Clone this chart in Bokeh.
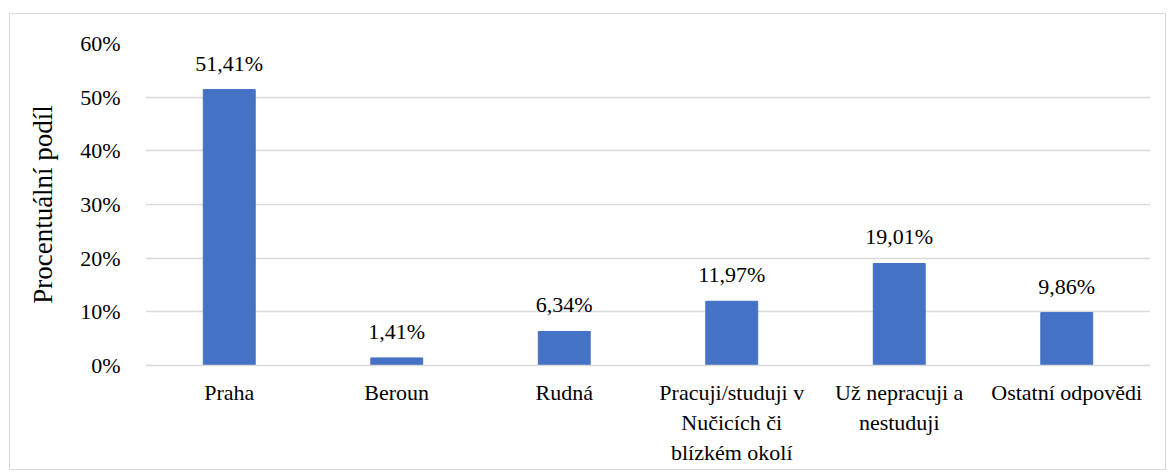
from bokeh.plotting import figure
from bokeh.models import ColumnDataSource, Range1d, FixedTicker, PrintfTickFormatter
from bokeh.core.properties import value
from bokeh.embed import file_html
from bokeh.resources import INLINE

categories = ["Praha", "Beroun", "Rudná",
              "Pracuji/studuji v\nNučicích či\nblízkém okolí",
              "Už nepracuji a\nnestuduji", "Ostatní odpovědi"]
values = [51.41, 1.41, 6.34, 11.97, 19.01, 9.86]
y_ticks = [0, 10, 20, 30, 40, 50, 60]

labels = [f"{v:.2f}".replace(".", ",") + "%" for v in values]
src = ColumnDataSource(dict(cat=categories, val=values, lab=labels))

FONT = "Liberation Serif"

p = figure(x_range=categories, y_range=Range1d(0, 60), width=1157, height=457,
           output_backend="svg", toolbar_location=None,
           min_border_left=135, min_border_right=17, min_border_top=29, min_border_bottom=106)
p.styles = {"border": "1px solid #d9d9d9", "margin-top": "13px", "margin-left": "9px"}
p.outline_line_color = None
p.background_fill_color = "white"
p.border_fill_color = "white"

p.vbar(x="cat", top="val", width=0.31, source=src, color="#4472C4")
p.text(x="cat", y="val", text="lab", source=src, text_align="center",
       text_baseline="bottom", y_offset=-14, text_font=value(FONT),
       text_font_style="normal", text_font_size="22px", text_color="#000000")

p.xgrid.grid_line_color = None
p.ygrid.grid_line_color = "#d9d9d9"
p.ygrid.grid_line_width = 1.5

p.yaxis.ticker = FixedTicker(ticks=y_ticks)
p.yaxis.formatter = PrintfTickFormatter(format="%d%%")
p.yaxis.axis_line_color = None
p.yaxis.major_tick_line_color = None
p.yaxis.minor_tick_line_color = None
p.yaxis.major_label_standoff = 19
p.yaxis.axis_label = "Procentuální podíl"
p.yaxis.axis_label_standoff = 19
p.yaxis.axis_label_text_font_style = "normal"

p.xaxis.axis_line_color = "#d9d9d9"
p.xaxis.axis_line_width = 1.5
p.xaxis.major_tick_line_color = None
p.xaxis.minor_tick_line_color = None
p.xaxis.major_label_standoff = 8

for ax in (p.xaxis[0], p.yaxis[0]):
    ax.major_label_text_font = FONT
    ax.major_label_text_font_size = "22px"
    ax.major_label_text_color = "#000000"
    ax.axis_label_text_font = FONT
    ax.axis_label_text_font_size = "27px"
    ax.axis_label_text_color = "#000000"

open("out.html", "w").write(file_html(p, INLINE))
